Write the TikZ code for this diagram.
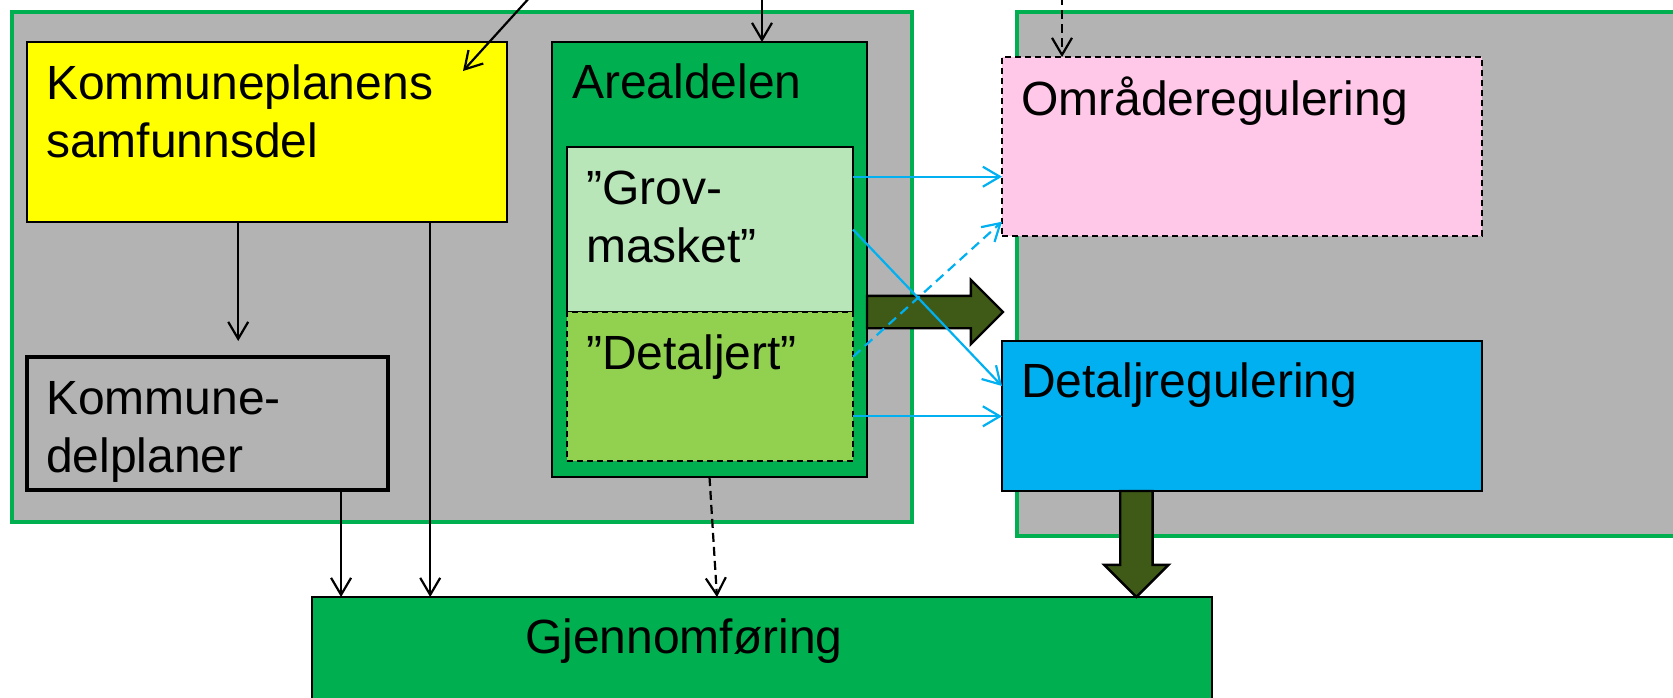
\documentclass[tikz,border=0pt]{standalone}
\usepackage{fontspec}
\setmainfont{Liberation Sans}
\usepackage{xcolor}
\usepackage{tikz}
\usetikzlibrary{positioning}
\usetikzlibrary{calc}
\usetikzlibrary{shapes.arrows,arrows.meta}
\definecolor{boxgray}{HTML}{B3B3B3}
\definecolor{frgreen}{HTML}{00B050}
\definecolor{samfyellow}{HTML}{FFFF00}
\definecolor{grovgreen}{HTML}{B8E6B8}
\definecolor{detgreen}{HTML}{92D050}
\definecolor{omrpink}{HTML}{FFC8E8}
\definecolor{regblue}{HTML}{00B0F0}
\definecolor{arrowolive}{HTML}{3F5A16}
\tikzstyle{frame}=[draw=frgreen,line width=4pt,fill=boxgray,anchor=north west,inner sep=0pt,outer sep=0pt]
\tikzstyle{box}=[draw,line width=2.4pt,anchor=north west,inner sep=0pt,outer sep=0pt]
\tikzstyle{boxtext}=[anchor=base west,inner sep=0pt,align=left,font=\fontsize{48}{58}\selectfont]
\tikzstyle{edge}=[draw,line width=2.2pt,-{Straight Barb[length=17pt,width=20pt]}]
\tikzstyle{dashededge}=[edge,dash pattern=on 9pt off 5pt]
\tikzstyle{blueedge}=[edge,draw=regblue]
\tikzstyle{bigarrow}=[single arrow,draw,line width=2.4pt,fill=arrowolive,inner sep=15pt,outer sep=0pt,single arrow head extend=16pt,anchor=tail]

\begin{document}
\begin{tikzpicture}[x=1pt,y=-1pt]
    \useasboundingbox (0,0) rectangle (1673,697);

    % the two planning levels
    \node[frame,minimum width=900pt,minimum height=510pt] (kplan) at (12,12) {};
    \node[frame,minimum width=683pt,minimum height=524pt] (rplan) at (1017,12) {};

    % boxes
    \node[box,fill=samfyellow,minimum width=480pt,minimum height=180pt] (samf) at (27,42) {};
    \node[box,fill=frgreen,minimum width=315pt,minimum height=435pt] (areal) at (552,42) {};
    \node[box,fill=grovgreen,minimum width=286pt,minimum height=165pt] (grov) at (567,147) {};
    \node[box,fill=detgreen,dash pattern=on 6pt off 4pt,minimum width=286pt,minimum height=149pt] (detalj) at (567,312) {};
    \node[box,fill=boxgray,line width=4.5pt,minimum width=361pt,minimum height=133pt] (kdp) at (27,357) {};
    \node[box,fill=frgreen,minimum width=900pt,minimum height=143pt] (gjenn) at (312,597) {};
    \node[box,fill=omrpink,dash pattern=on 6pt off 4pt,minimum width=480pt,minimum height=179pt] (omr) at (1002,57) {};
    \node[box,fill=regblue,minimum width=480pt,minimum height=150pt] (detreg) at (1002,341) {};

    % texts (base of the last line)
    \node[boxtext] (samfT) at ($(samf.north west)+(19,115)$) {Kommuneplanens\\samfunnsdel};
    \node[boxtext] (arealT) at ($(areal.north west)+(20,56)$) {Arealdelen};
    \node[boxtext] (grovT) at ($(grov.north west)+(19,115)$) {”Grov-\\masket”};
    \node[boxtext] (detaljT) at ($(detalj.north west)+(19,57)$) {”Detaljert”};
    \node[boxtext] (kdpT) at ($(kdp.north west)+(19,115)$) {Kommune-\\delplaner};
    \node[boxtext] (gjennT) at ($(gjenn.north west)+(213,56)$) {Gjennomføring};
    \node[boxtext] (omrT) at ($(omr.north west)+(19,58)$) {Områderegulering};
    \node[boxtext] (detregT) at ($(detreg.north west)+(19,56)$) {Detaljregulering};

    % big arrows
    \node[bigarrow,minimum height=136pt] (bigR) at (areal.east |- grov.south) {};
    \coordinate (dtail) at ($(detreg.south west)!0.28!(detreg.south east)$);
    \node[bigarrow,rotate=-90,minimum height=106pt] (bigD) at (dtail) {};

    % arrows from above
    \coordinate (in1) at (531,-4);
    \coordinate (in2) at (762,-4);
    \coordinate (in3) at (1062,-4);
    \coordinate (t1) at (463,71);
    \path[edge] (in1) -- (t1);
    \path[edge] (in2) -- (in2 |- areal.north);
    \path[dashededge] (in3) -- (in3 |- omr.north);

    % arrows down to Gjennomfoering
    \coordinate (s1) at ($(samf.south west)!0.44!(samf.south east)$);
    \coordinate (s2) at ($(samf.south west)!0.84!(samf.south east)$);
    \coordinate (k1) at ($(kdp.south west)!0.87!(kdp.south east)$);
    \coordinate (gdash) at ($(gjenn.north west)!0.45!(gjenn.north east)$);
    \path[edge,shorten >=16pt] (s1) -- (s1 |- kdp.north);
    \path[edge] (s2) -- (s2 |- gjenn.north);
    \path[edge] (k1) -- (k1 |- gjenn.north);
    \path[dashededge] (areal.south) -- (gdash);

    % blue arrows to the regulation plans
    \coordinate (g1) at ($(grov.north east)!0.18!(grov.south east)$);
    \coordinate (g2) at ($(grov.north east)!0.50!(grov.south east)$);
    \coordinate (d1) at ($(detalj.north east)!0.30!(detalj.south east)$);
    \coordinate (d2) at ($(detalj.north east)!0.70!(detalj.south east)$);
    \coordinate (r1) at ($(detreg.north west)!0.30!(detreg.south west)$);
    \coordinate (o1) at ($(omr.north west)!0.92!(omr.south west)$);
    \path[blueedge] (g1) -- (g1 -| omr.west);
    \path[blueedge] (g2) -- (r1);
    \path[blueedge,dash pattern=on 10pt off 6pt] (d1) -- (o1);
    \path[blueedge] (d2) -- (d2 -| detreg.west);

\end{tikzpicture}
\end{document}
